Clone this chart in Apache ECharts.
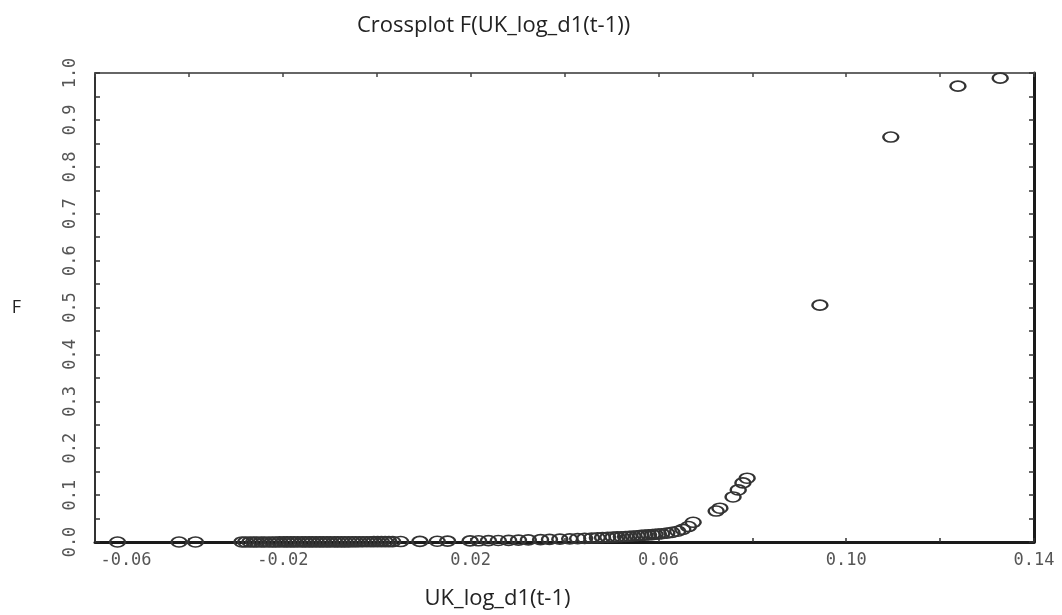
<!DOCTYPE html>
<html>
<head>
<meta charset="utf-8">
<title>Crossplot F(UK_log_d1(t-1))</title>
<script src="https://cdn.jsdelivr.net/npm/echarts@6/dist/echarts.min.js"></script>
<style>
  html, body { margin: 0; padding: 0; background: #ffffff; }
  #chart { width: 1062px; height: 615px; }
</style>
</head>
<body>
<div id="chart"></div>
<script>
// Lagged UK log-difference (x) against the transition function F (y)
const ukLogD1Lag = [
  -0.0552, -0.0421, -0.0386,
  -0.0287, -0.0279, -0.0270, -0.0262, -0.0255, -0.0246, -0.0239, -0.0230, -0.0222, -0.0215,
  -0.0207, -0.0198, -0.0191, -0.0183, -0.0176, -0.0168, -0.0159, -0.0152, -0.0144, -0.0137,
  -0.0129, -0.0121, -0.0114, -0.0106, -0.0099, -0.0090, -0.0083, -0.0075, -0.0068, -0.0060,
  -0.0052, -0.0045, -0.0037, -0.0029, -0.0021, -0.0013, -0.0006, 0.0002, 0.0010, 0.0018,
  0.0026, 0.0034,
  0.0051, 0.0092, 0.0129, 0.0151, 0.0199, 0.0217, 0.0238, 0.0259, 0.0281, 0.0302, 0.0323,
  0.0349, 0.0368, 0.0390, 0.0411, 0.0428, 0.0443, 0.0458, 0.0470, 0.0481, 0.0492, 0.0503,
  0.0512, 0.0521, 0.0530, 0.0538, 0.0546, 0.0555, 0.0563, 0.0571, 0.0579, 0.0587, 0.0593,
  0.0600, 0.0607, 0.0618, 0.0629, 0.0641, 0.0652, 0.0664, 0.0674,
  0.0723, 0.0731, 0.0759, 0.0770, 0.0780, 0.0789,
  0.0944, 0.1095, 0.1238, 0.1328
];
const fValues = [
  0.0000, 0.0000, 0.0000,
  0.0001, 0.0001, 0.0001, 0.0001, 0.0001, 0.0001, 0.0001, 0.0001, 0.0001, 0.0001,
  0.0002, 0.0002, 0.0002, 0.0002, 0.0002, 0.0002, 0.0002, 0.0002, 0.0002, 0.0002,
  0.0003, 0.0003, 0.0003, 0.0003, 0.0003, 0.0003, 0.0004, 0.0004, 0.0004, 0.0004,
  0.0005, 0.0005, 0.0005, 0.0006, 0.0006, 0.0006, 0.0007, 0.0007, 0.0008, 0.0008,
  0.0009, 0.0009,
  0.0010, 0.0013, 0.0016, 0.0018, 0.0024, 0.0026, 0.0029, 0.0032, 0.0036, 0.0040, 0.0044,
  0.0050, 0.0055, 0.0061, 0.0067, 0.0073, 0.0078, 0.0084, 0.0089, 0.0094, 0.0099, 0.0104,
  0.0108, 0.0113, 0.0118, 0.0123, 0.0128, 0.0134, 0.0140, 0.0146, 0.0152, 0.0158, 0.0164,
  0.0170, 0.0177, 0.0190, 0.0205, 0.0230, 0.0270, 0.0330, 0.0420,
  0.0660, 0.0720, 0.0960, 0.1110, 0.1260, 0.1360,
  0.5050, 0.8635, 0.9720, 0.9890
];
const xTickLabels = ['-0.06', '-0.02', '0.02', '0.06', '0.10', '0.14'];
const yTickLabels = ['0.0', '0.1', '0.2', '0.3', '0.4', '0.5', '0.6', '0.7', '0.8', '0.9', '1.0'];

const points = ukLogD1Lag.map((x, i) => [x, fValues[i]]);

const tickFont = { fontFamily: 'DejaVu Sans Mono', fontSize: 17, color: '#555555' };
const textFont = { fontFamily: 'Open Sans', fontSize: 22, color: '#222222', fontWeight: 'normal' };

function xLabel(v) {
  const s = (v < 0 ? '-' : '') + Math.abs(v).toFixed(2);
  if (xTickLabels.indexOf(s) < 0) return '';
  // the first label sits inside the plot's left edge
  return s === xTickLabels[0] ? '{first|' + s + '}' : s;
}
function yLabel(v) {
  const s = v.toFixed(1);
  return Math.abs(v * 10 - Math.round(v * 10)) < 1e-6 && yTickLabels.indexOf(s) >= 0 ? s : '';
}

const chart = echarts.init(document.getElementById('chart'), null, { renderer: 'canvas' });
chart.setOption({
  animation: false,
  backgroundColor: '#ffffff',
  title: {
    text: 'Crossplot F(UK_log_d1(t-1))',
    left: 352,
    top: 10,
    textStyle: textFont
  },
  grid: { left: 95, right: 28, top: 73, bottom: 73, containLabel: false },
  xAxis: [
    {
      type: 'value', min: -0.06, max: 0.14, interval: 0.02, position: 'bottom',
      name: 'UK_log_d1(t-1)', nameLocation: 'middle', nameGap: 46,
      nameTextStyle: Object.assign({}, textFont, { padding: [0, 134, 0, 0] }),
      axisLine: { show: true, lineStyle: { color: '#1a1a1a', width: 3 } },
      axisTick: { show: true, inside: true, length: 4, lineStyle: { color: '#333', width: 1.5 } },
      axisLabel: Object.assign({}, tickFont, {
        margin: 10,
        formatter: xLabel,
        rich: { first: Object.assign({}, tickFont, { padding: [0, 0, 0, 62] }) }
      }),
      splitLine: { show: false }
    },
    {
      type: 'value', min: -0.06, max: 0.14, interval: 0.02, position: 'top',
      axisLine: { show: true, onZero: false, lineStyle: { color: '#666', width: 2 } },
      axisTick: { show: true, inside: true, length: 4, lineStyle: { color: '#444', width: 1.5 } },
      axisLabel: { show: false },
      splitLine: { show: false }
    }
  ],
  yAxis: [
    {
      type: 'value', min: 0, max: 1, interval: 0.05, position: 'left',
      name: 'F', nameLocation: 'middle', nameGap: 74, nameRotate: 0,
      nameTextStyle: Object.assign({}, textFont, { fontSize: 18 }),
      axisLine: { show: true, onZero: false, lineStyle: { color: '#333', width: 2 } },
      axisTick: { show: true, inside: true, length: 5, lineStyle: { color: '#333', width: 1.5 } },
      axisLabel: Object.assign({}, tickFont, { rotate: 90, margin: 16, formatter: yLabel }),
      splitLine: { show: false }
    },
    {
      type: 'value', min: 0, max: 1, interval: 0.05, position: 'right',
      axisLine: { show: true, onZero: false, lineStyle: { color: '#1a1a1a', width: 3 } },
      axisTick: { show: true, inside: true, length: 5, lineStyle: { color: '#333', width: 1.5 } },
      axisLabel: { show: false },
      splitLine: { show: false }
    }
  ],
  series: [{
    type: 'scatter',
    xAxisIndex: 0,
    yAxisIndex: 0,
    data: points,
    symbol: 'circle',
    symbolSize: [15, 10],
    clip: false,
    itemStyle: { color: 'rgba(255,255,255,0)', borderColor: '#333333', borderWidth: 2, opacity: 1 }
  }]
});
</script>
</body>
</html>
